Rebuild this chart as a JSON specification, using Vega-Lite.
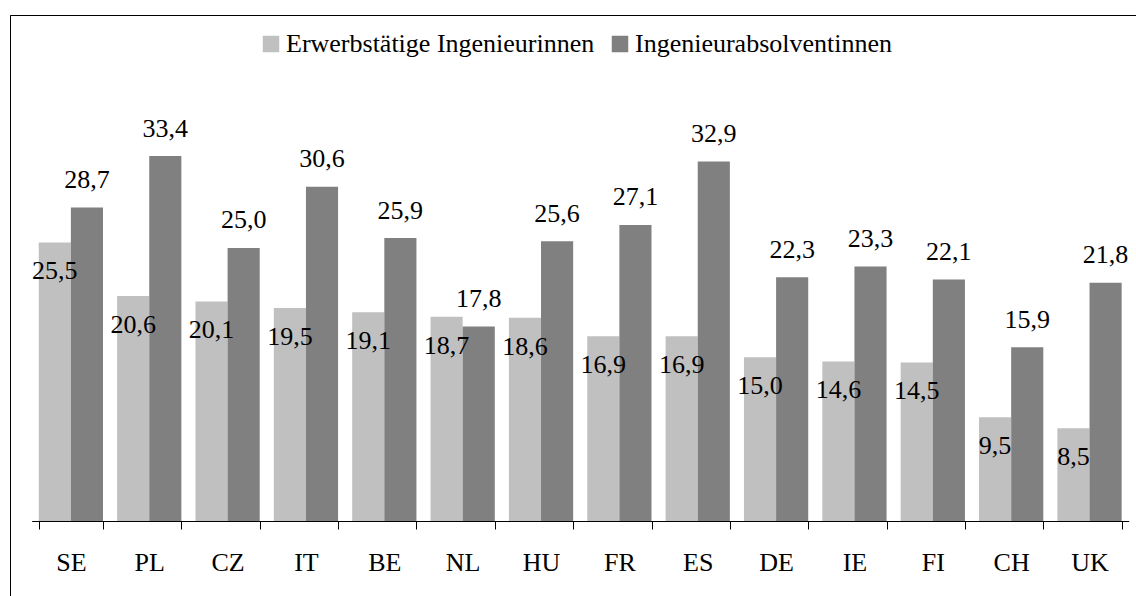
{
  "$schema": "https://vega.github.io/schema/vega-lite/v6.json",
  "autosize": {"type": "none"},
  "padding": {"left": 10, "top": 15, "right": 0, "bottom": 0},
  "width": 1126,
  "height": 581,
  "background": "white",
  "data": {
    "values": [
      {"country": "SE", "series": "Erwerbstätige Ingenieurinnen", "value": 25.5},
      {"country": "SE", "series": "Ingenieurabsolventinnen", "value": 28.7},
      {"country": "PL", "series": "Erwerbstätige Ingenieurinnen", "value": 20.6},
      {"country": "PL", "series": "Ingenieurabsolventinnen", "value": 33.4},
      {"country": "CZ", "series": "Erwerbstätige Ingenieurinnen", "value": 20.1},
      {"country": "CZ", "series": "Ingenieurabsolventinnen", "value": 25.0},
      {"country": "IT", "series": "Erwerbstätige Ingenieurinnen", "value": 19.5},
      {"country": "IT", "series": "Ingenieurabsolventinnen", "value": 30.6},
      {"country": "BE", "series": "Erwerbstätige Ingenieurinnen", "value": 19.1},
      {"country": "BE", "series": "Ingenieurabsolventinnen", "value": 25.9},
      {"country": "NL", "series": "Erwerbstätige Ingenieurinnen", "value": 18.7},
      {"country": "NL", "series": "Ingenieurabsolventinnen", "value": 17.8},
      {"country": "HU", "series": "Erwerbstätige Ingenieurinnen", "value": 18.6},
      {"country": "HU", "series": "Ingenieurabsolventinnen", "value": 25.6},
      {"country": "FR", "series": "Erwerbstätige Ingenieurinnen", "value": 16.9},
      {"country": "FR", "series": "Ingenieurabsolventinnen", "value": 27.1},
      {"country": "ES", "series": "Erwerbstätige Ingenieurinnen", "value": 16.9},
      {"country": "ES", "series": "Ingenieurabsolventinnen", "value": 32.9},
      {"country": "DE", "series": "Erwerbstätige Ingenieurinnen", "value": 15.0},
      {"country": "DE", "series": "Ingenieurabsolventinnen", "value": 22.3},
      {"country": "IE", "series": "Erwerbstätige Ingenieurinnen", "value": 14.6},
      {"country": "IE", "series": "Ingenieurabsolventinnen", "value": 23.3},
      {"country": "FI", "series": "Erwerbstätige Ingenieurinnen", "value": 14.5},
      {"country": "FI", "series": "Ingenieurabsolventinnen", "value": 22.1},
      {"country": "CH", "series": "Erwerbstätige Ingenieurinnen", "value": 9.5},
      {"country": "CH", "series": "Ingenieurabsolventinnen", "value": 15.9},
      {"country": "UK", "series": "Erwerbstätige Ingenieurinnen", "value": 8.5},
      {"country": "UK", "series": "Ingenieurabsolventinnen", "value": 21.8}
    ]
  },
  "encoding": {
    "x": {
      "field": "country",
      "type": "nominal",
      "sort": null,
      "scale": {"range": [21.7, 1118.7], "paddingInner": 0.18, "paddingOuter": 0.09},
      "axis": {
        "title": null,
        "labelAngle": 0,
        "tickBand": "extent",
        "offset": -75,
        "domainColor": "#000000",
        "domainWidth": 1,
        "tickColor": "#000000",
        "tickWidth": 1,
        "tickSize": 8,
        "labelFont": "Liberation Serif",
        "labelFontSize": 26,
        "labelColor": "#000000",
        "labelBaseline": "alphabetic",
        "labelPadding": 41,
        "grid": false
      }
    },
    "xOffset": {
      "field": "series",
      "type": "nominal",
      "scale": {"domain": ["Erwerbstätige Ingenieurinnen", "Ingenieurabsolventinnen"]}
    },
    "y": {
      "field": "value",
      "type": "quantitative",
      "scale": {"domain": [0, 40], "range": [506, 69]},
      "axis": null
    }
  },
  "layer": [
    {
      "mark": {"type": "bar"},
      "encoding": {
        "color": {
          "field": "series",
          "type": "nominal",
          "scale": {
            "domain": ["Erwerbstätige Ingenieurinnen", "Ingenieurabsolventinnen"],
            "range": ["#C0C0C0", "#808080"]
          },
          "legend": {
            "title": null,
            "orient": "none",
            "legendX": 248,
            "legendY": 16,
            "direction": "horizontal",
            "symbolType": "square",
            "symbolSize": 272,
            "symbolStrokeWidth": 0,
            "labelFont": "Liberation Serif",
            "labelFontSize": 26,
            "labelColor": "#000000",
            "labelLimit": 600,
            "labelOffset": 2,
            "columnPadding": 12,
            "padding": 0
          }
        }
      }
    },
    {
      "transform": [{"filter": "datum.series === 'Erwerbstätige Ingenieurinnen'"}],
      "mark": {"type": "text", "baseline": "alphabetic", "dy": 36.8, "font": "Liberation Serif", "fontSize": 26, "color": "#000000"},
      "encoding": {"text": {"field": "value", "type": "quantitative", "format": ".1f"}}
    },
    {
      "transform": [{"filter": "datum.series === 'Ingenieurabsolventinnen'"}],
      "mark": {"type": "text", "baseline": "alphabetic", "dy": -19.5, "font": "Liberation Serif", "fontSize": 26, "color": "#000000"},
      "encoding": {"text": {"field": "value", "type": "quantitative", "format": ".1f"}}
    }
  ],
  "config": {
    "font": "Liberation Serif",
    "text": {"font": "Liberation Serif"},
    "view": {"stroke": "#000000", "strokeWidth": 1, "strokeDash": [1126, 1707, 582, 20]},
    "locale": {"number": {"decimal": ",", "thousands": ".", "grouping": [3], "currency": ["", " €"]}}
  }
}
